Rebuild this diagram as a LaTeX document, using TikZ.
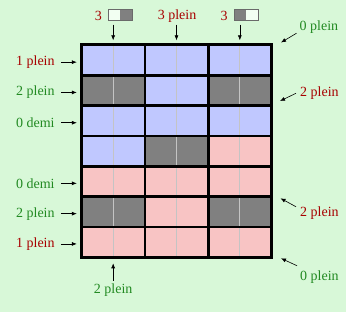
\documentclass[tikz,border=0pt]{standalone}
\usepackage{fontspec}
\setmainfont{Liberation Serif}
\usetikzlibrary{arrows.meta}
\begin{document}
\begin{tikzpicture}[x=1pt,y=-1pt,
    lbl/.style={font=\fontsize{14}{16}\selectfont,inner sep=0pt},
    redlbl/.style={lbl,text=col_red},
    greenlbl/.style={lbl,text=col_green},
    ptr/.style={-{Latex[length=5pt,width=4pt]},line width=0.6pt},
    cell/.style={rectangle,inner sep=0pt,minimum width=63.33pt,minimum height=30.3pt},
    icon/.style={rectangle,draw=col_edge,line width=0.8pt,fill=col_light,minimum width=24pt,minimum height=10.5pt,inner sep=0pt}]
    \definecolor{col_bg}{HTML}{D8F8D8}    % background
    \definecolor{col_b}{HTML}{C0C8FF}     % blue cell
    \definecolor{col_p}{HTML}{F8C4C4}     % pink cell
    \definecolor{col_k}{HTML}{808080}     % grey cell
    \definecolor{col_thin}{HTML}{C4C4C4}
    \definecolor{col_red}{HTML}{A80000}
    \definecolor{col_green}{HTML}{228A22}
    \definecolor{col_light}{HTML}{F2FFF2}
    \definecolor{col_edge}{HTML}{6A6A6A}
    \fill[col_bg] (0,0) rectangle (346,312);
    \useasboundingbox (0,0) rectangle (346,312);
    % cells
    \foreach \r/\cols in {0/{b,b,b},1/{k,b,k},2/{b,b,b},3/{b,k,p},4/{p,p,p},5/{k,p,k},6/{p,p,p}}
        \foreach \c [count=\j from 0] in \cols
            \node[cell,fill=col_\c] (c-\r-\j) at (113.17+63.33*\j,60.15+30.3*\r) {};
    \foreach \j in {0,1,2}
        \draw[col_thin,line width=0.7pt] (c-0-\j.north) -- (c-6-\j.south);
    \draw[line width=2.6pt] (c-0-0.north west) rectangle (c-6-2.south east);
    \foreach \j in {0,1}
        \draw[line width=2.6pt] (c-0-\j.north east) -- (c-6-\j.south east);
    \foreach \r in {0,...,5}
        \draw[line width=2.6pt] (c-\r-0.south west) -- (c-\r-2.south east);
    % top
    \node[redlbl] (t1n) at (98.3,16) {3};
    \node[icon,path picture={\fill[col_k] (path picture bounding box.north) rectangle (path picture bounding box.south east);}] (t1) at (120.1,15) {};
    \draw[ptr,shorten <=4pt,shorten >=4.5pt] (c-0-0.north |- t1.south) -- (c-0-0.north);
    \node[redlbl] (t2) at (177,16) {3 plein};
    \draw[ptr,shorten <=2pt,shorten >=4.5pt] (c-0-1.north |- t2.south) -- (c-0-1.north);
    \node[redlbl] (t3n) at (224,16) {3};
    \node[icon,path picture={\fill[col_k] (path picture bounding box.north west) rectangle (path picture bounding box.south);}] (t3) at (246.2,15) {};
    \draw[ptr,shorten <=4pt,shorten >=4.5pt] (c-0-2.north |- t3.south) -- (c-0-2.north);
    % right
    \node[greenlbl,anchor=west] (r0) at (299.5,26.7) {0 plein};
    \coordinate (d0) at (281,42.5);
    \draw[ptr] ([xshift=-3pt]r0.south west) -- (d0);
    \node[redlbl,anchor=west] (r1) at (300,93.3) {2 plein};
    \coordinate (d1) at (280,101);
    \draw[ptr] ([xshift=-4pt]r1.west) -- (d1);
    \node[redlbl,anchor=west] (r5) at (300,213.3) {2 plein};
    \coordinate (d5) at (280.5,198.3);
    \draw[ptr] ([xshift=-4pt]r5.north west) -- (d5);
    \node[greenlbl,anchor=west] (r7) at (300,277.3) {0 plein};
    \coordinate (d7) at (281,258.3);
    \draw[ptr] ([shift={(-3,-5)}]r7.north west) -- (d7);
    % left
    \foreach \r/\txt/\sty in {0/1 plein/redlbl,1/2 plein/greenlbl,2/0 demi/greenlbl,4/0 demi/greenlbl,5/2 plein/greenlbl,6/1 plein/redlbl}{
        \node[\sty,anchor=east] (l-\r) at ([shift={(-26.5,2)}]c-\r-0.west) {\txt};
        \draw[ptr,shorten <=6pt,shorten >=4.5pt] (l-\r.east) -- (l-\r.east -| c-\r-0.west);
    }
    % bottom
    \node[greenlbl] (b0) at (113.17,290.5) {2 plein};
    \draw[ptr,shorten <=3pt,shorten >=6pt] (b0.north) -- (c-6-0.south);
\end{tikzpicture}
\end{document}
